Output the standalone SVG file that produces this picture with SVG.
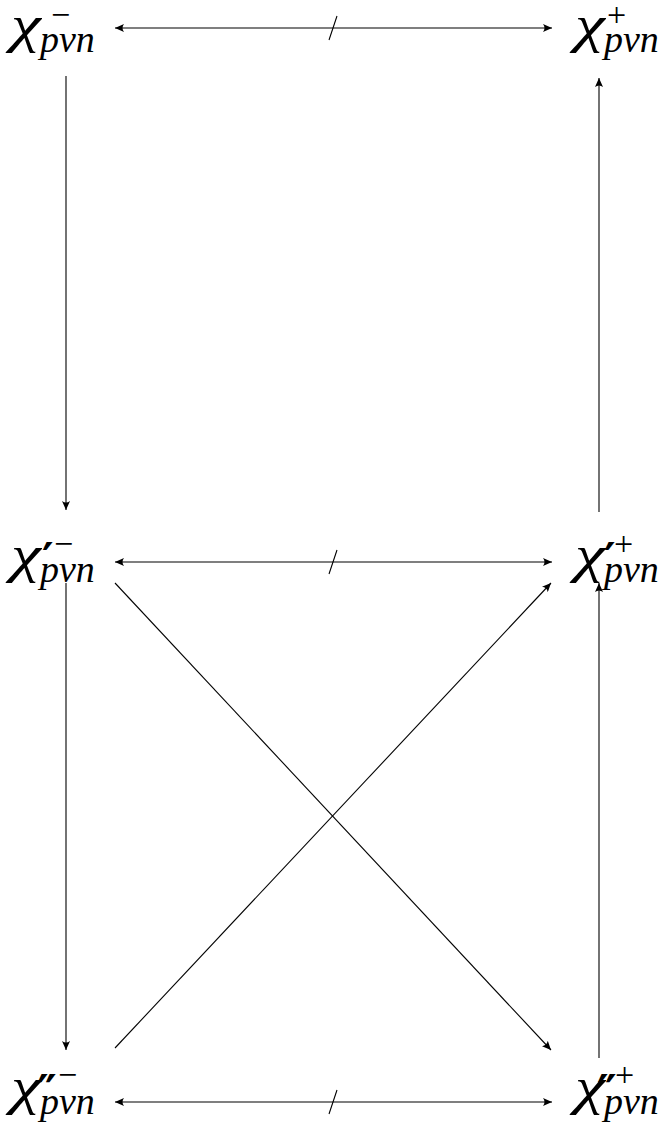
<svg xmlns="http://www.w3.org/2000/svg" width="665" height="1125" viewBox="0 0 665 1125">
<style>
.m{font-family:'Liberation Serif','Times New Roman',Times,serif;font-style:italic;fill:#000}
.chi{font-size:52px}
.sub{font-size:38px}
.sup{font-style:normal;font-size:34px}
.pr{font-family:'DejaVu Sans',sans-serif;font-style:normal;font-weight:bold;font-size:44px}
.ar{stroke:#000;stroke-width:1.1;fill:none}
</style>
<defs>
<marker id="ah" markerWidth="10" markerHeight="8" refX="9" refY="4" orient="auto-start-reverse" markerUnits="userSpaceOnUse">
<path d="M9,4 L0,0 Q3,4 0,8 Z" fill="#000"/>
</marker>
</defs>
<g id="n1" class="m"><text class="chi" transform="translate(11,42) scale(1.3,1)">χ</text><text class="sub" x="40" y="52">pνn</text><text class="sup" x="51" y="26">−</text></g>
<g id="n2" class="m"><text class="chi" transform="translate(575,42) scale(1.3,1)">χ</text><text class="sub" x="604" y="52">pνn</text><text class="sup" x="607" y="26">+</text></g>
<g id="n3" class="m"><text class="chi" transform="translate(11,572) scale(1.3,1)">χ</text><text class="sub" x="40" y="582">pνn</text><text class="pr" x="42" y="575">′</text><text class="sup" x="54" y="555">−</text></g>
<g id="n4" class="m"><text class="chi" transform="translate(575,572) scale(1.3,1)">χ</text><text class="sub" x="604" y="582">pνn</text><text class="pr" x="604" y="575">′</text><text class="sup" x="614" y="555">+</text></g>
<g id="n5" class="m"><text class="chi" transform="translate(11,1104) scale(1.3,1)">χ</text><text class="sub" x="40" y="1114">pνn</text><text class="pr" x="37" y="1107">″</text><text class="sup" x="58" y="1086">−</text></g>
<g id="n6" class="m"><text class="chi" transform="translate(575,1104) scale(1.3,1)">χ</text><text class="sub" x="604" y="1114">pνn</text><text class="pr" x="597" y="1107">″</text><text class="sup" x="615" y="1086">+</text></g>
<g id="connectors">
<line class="ar" x1="552" y1="28" x2="115" y2="28" marker-start="url(#ah)" marker-end="url(#ah)"/>
<line class="ar" x1="329" y1="40" x2="337" y2="16"/>
<line class="ar" x1="552" y1="562" x2="115" y2="562" marker-start="url(#ah)" marker-end="url(#ah)"/>
<line class="ar" x1="329" y1="574" x2="337" y2="550"/>
<line class="ar" x1="552" y1="1102" x2="115" y2="1102" marker-start="url(#ah)" marker-end="url(#ah)"/>
<line class="ar" x1="329" y1="1114" x2="337" y2="1090"/>
<line class="ar" x1="66" y1="76" x2="66" y2="510" marker-end="url(#ah)"/>
<line class="ar" x1="599" y1="512" x2="599" y2="78" marker-end="url(#ah)"/>
<line class="ar" x1="66" y1="583" x2="66" y2="1050" marker-end="url(#ah)"/>
<line class="ar" x1="599" y1="1058" x2="599" y2="583" marker-end="url(#ah)"/>
<line class="ar" x1="115" y1="583" x2="551" y2="1050" marker-end="url(#ah)"/>
<line class="ar" x1="115" y1="1048" x2="551" y2="583" marker-end="url(#ah)"/>
</g>
</svg>
